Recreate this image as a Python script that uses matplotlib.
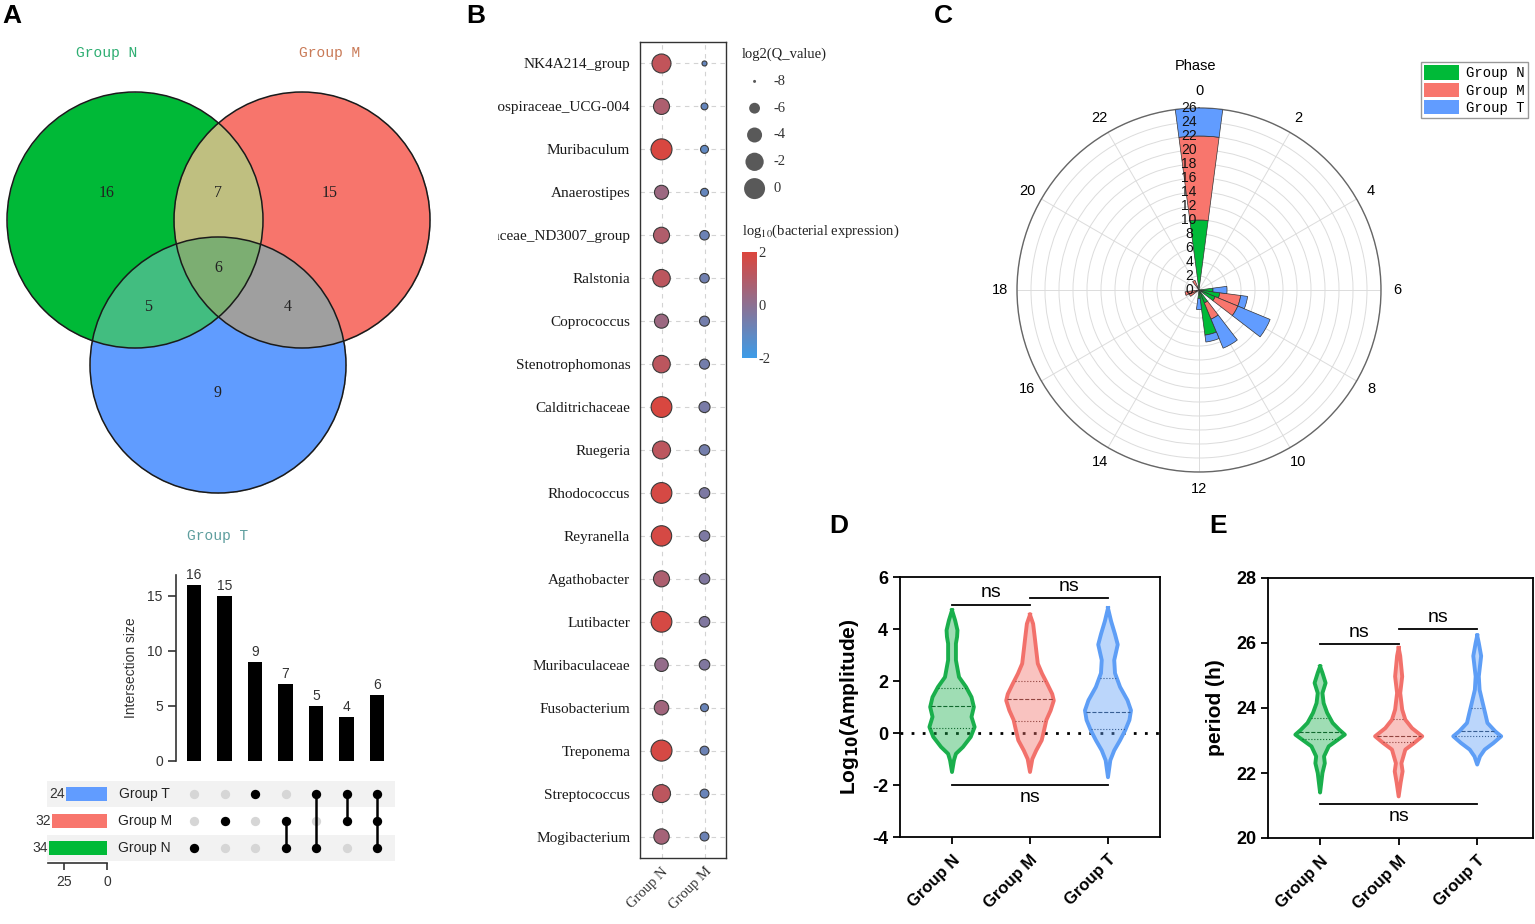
import numpy as np
import matplotlib
matplotlib.use('Agg')
import matplotlib.pyplot as plt
from matplotlib.patches import Circle, Patch
from matplotlib.colors import LinearSegmentedColormap, Normalize, to_rgb
from matplotlib.cm import ScalarMappable
from matplotlib.transforms import Bbox, TransformedBbox, offset_copy

plt.rcParams['font.family'] = ['Liberation Sans', 'DejaVu Sans']
plt.rcParams['axes.unicode_minus'] = False

W, H = 1535, 924
SERIF = 'Liberation Serif'
MONO = 'Liberation Mono'

# ---------------- data ----------------
# A: Venn regions, same order as the UpSet bars
venn_regions = ['N', 'M', 'T', 'NM', 'NT', 'MT', 'NMT']
venn_counts = [16, 15, 9, 7, 5, 4, 6]
set_keys = ['N', 'M', 'T']
set_labels = ['Group N', 'Group M', 'Group T']

# B: bubble chart
genera = ['NK4A214_group', 'Lachnospiraceae_UCG-004', 'Muribaculum', 'Anaerostipes',
          'Lachnospiraceae_ND3007_group', 'Ralstonia', 'Coprococcus', 'Stenotrophomonas',
          'Calditrichaceae', 'Ruegeria', 'Rhodococcus', 'Reyranella', 'Agathobacter',
          'Lutibacter', 'Muribaculaceae', 'Fusobacterium', 'Treponema', 'Streptococcus',
          'Mogibacterium']
bubble_groups = ['Group N', 'Group M']
expr_N = [1.3, 0.8, 1.9, 0.4, 0.9, 1.2, 0.4, 1.2, 1.9, 1.2, 1.8, 1.8, 0.8, 1.8, 0.2, 0.5, 1.8, 1.2, 0.6]
expr_M = [-1.0, -1.0, -1.1, -1.0, -0.8, -0.7, -0.6, -0.6, -0.5, -0.6, -0.4, -0.4, -0.3, -0.3, -0.3, -0.9, -0.8, -0.9, -0.8]
q_N = [-1.5, -3.4, 0.0, -4.5, -3.4, -2.5, -4.5, -2.5, -0.2, -2.2, -0.2, -0.5, -3.4, -0.2, -4.8, -4.3, 0.0, -2.2, -3.8]
q_M = [-7.7, -7.3, -7.0, -7.0, -6.5, -6.5, -6.3, -6.3, -5.9, -6.1, -6.1, -6.1, -6.1, -6.1, -6.1, -7.0, -6.7, -6.7, -6.7]
q_legend = [-8, -6, -4, -2, 0]

# C: phase rose (stacked counts per hour)
phase_hours = [0, 6, 7, 8, 10, 11, 12, 16, 17, 22]
phase_N = [10, 2, 3, 2.5, 2, 6.5, 1.2, 0, 0, 0]
phase_M = [12, 0, 3, 3.5, 2.5, 0, 0, 1.5, 2, 1.5]
phase_T = [4, 2, 1, 5, 4.5, 1, 1.6, 0, 0, 0]

# D: log10(amplitude) violin outlines (value, half width) and quartiles
amp_y = [
    [4.72, 4.33, 3.95, 3.70, 3.44, 2.80, 2.15, 1.77, 1.38, 1.00, 0.62, 0.23, -0.15, -0.54, -0.80, -1.05, -1.50],
    [4.55, 4.20, 3.70, 3.18, 2.67, 2.28, 1.90, 1.50, 1.25, 0.87, 0.50, 0.10, -0.28, -0.67, -1.00, -1.50],
    [4.80, 4.30, 3.80, 3.40, 2.80, 2.30, 1.77, 1.26, 0.87, 0.50, 0.10, -0.28, -0.67, -1.05, -1.70],
]
amp_w = [
    [0.0, 0.04, 0.07, 0.065, 0.05, 0.05, 0.09, 0.18, 0.25, 0.28, 0.25, 0.29, 0.24, 0.14, 0.05, 0.025, 0.0],
    [0.0, 0.04, 0.06, 0.08, 0.10, 0.155, 0.22, 0.285, 0.305, 0.265, 0.21, 0.18, 0.15, 0.08, 0.03, 0.0],
    [0.0, 0.04, 0.09, 0.125, 0.08, 0.09, 0.155, 0.25, 0.295, 0.275, 0.22, 0.155, 0.08, 0.03, 0.0],
]
amp_quart = [[0.2, 1.05, 1.75], [0.47, 1.3, 2.0], [0.15, 0.8, 2.1]]
amp_sig = [(1, 2, 4.94), (2, 3, 5.2), (1, 3, -2.0)]

# E: period violins
per_y = [
    [25.28, 25.08, 24.77, 24.46, 24.15, 23.85, 23.54, 23.33, 23.18, 23.03, 22.82, 22.51, 22.30, 22.00, 21.70, 21.40],
    [25.85, 25.60, 24.97, 24.46, 23.95, 23.64, 23.38, 23.13, 22.92, 22.72, 22.30, 22.05, 21.70, 21.28],
    [26.23, 26.00, 25.60, 24.97, 24.56, 24.15, 23.85, 23.54, 23.28, 23.13, 22.92, 22.72, 22.51, 22.26],
]
per_w = [
    [0.0, 0.03, 0.07, 0.03, 0.045, 0.09, 0.16, 0.245, 0.315, 0.23, 0.11, 0.05, 0.06, 0.03, 0.015, 0.0],
    [0.0, 0.02, 0.045, 0.02, 0.045, 0.085, 0.17, 0.30, 0.195, 0.085, 0.035, 0.05, 0.025, 0.0],
    [0.0, 0.02, 0.05, 0.02, 0.03, 0.07, 0.10, 0.13, 0.23, 0.305, 0.205, 0.095, 0.035, 0.0],
]
per_quart = [[23.05, 23.25, 23.7], [22.95, 23.15, 23.65], [23.15, 23.3, 24.0]]
per_sig = [(1, 2, 25.98), (2, 3, 26.44), (1, 3, 21.04)]

set_colors = {'N': '#00BA38', 'M': '#F8766D', 'T': '#619CFF'}
violin_colors = ['#1AAF4C', '#F2716B', '#5E9EF6']


def px(l, t, r, b):
    return [l / W, 1 - b / H, (r - l) / W, (b - t) / H]


fig = plt.figure(figsize=(W / 100, H / 100), dpi=100)

# overlay in pixel units (Venn + panel letters)
ov = fig.add_axes([0, 0, 1, 1])

# ---------------- A: Venn ----------------
venn_centers = {'N': (135, 220), 'M': (302, 220), 'T': (218, 365)}
venn_r = 128
region_colors = {'N': '#00BA38', 'M': '#F8766D', 'T': '#619CFF', 'NM': '#C0BF80',
                 'NT': '#42BE80', 'MT': '#A0A0A0', 'NMT': '#7DAE72'}
xs = np.arange(0, 470, 0.5)
ys = np.arange(80, 500, 0.5)
X, Y = np.meshgrid(xs, ys)
inside = {k: (X - c[0]) ** 2 + (Y - c[1]) ** 2 <= venn_r ** 2 for k, c in venn_centers.items()}
img = np.zeros(X.shape + (4,))
for reg in venn_regions:
    mask = np.ones(X.shape, bool)
    for k in set_keys:
        mask &= inside[k] if k in reg else ~inside[k]
    img[mask] = (*to_rgb(region_colors[reg]), 1.0)
ov.imshow(img, extent=(0, 470, 500, 80), origin='upper', aspect='auto', interpolation='bilinear')
for k, c in venn_centers.items():
    ov.add_patch(Circle(c, venn_r, fill=False, ec='#1a1a1a', lw=1.1))
region_pos = {'N': (107, 193), 'M': (330, 193), 'T': (218, 393), 'NM': (218, 193),
              'NT': (148, 307), 'MT': (288, 307), 'NMT': (218, 268)}
for reg, n in zip(venn_regions, venn_counts):
    ov.text(*region_pos[reg], str(n), ha='center', va='center', fontsize=11.5, family=SERIF, color='#222')
ov.text(107, 53, 'Group N', ha='center', va='center', fontsize=10.5, family=MONO, color='#2EAE72')
ov.text(330, 53, 'Group M', ha='center', va='center', fontsize=10.5, family=MONO, color='#C97A57')
ov.text(218, 536, 'Group T', ha='center', va='center', fontsize=10.5, family=MONO, color='#5E9E9E')

for letter, (x, y) in zip('ABCDE', [(12, 16), (476, 16), (943, 16), (839, 526), (1218, 526)]):
    ov.text(x, y, letter, ha='center', va='center', fontsize=19, fontweight='bold')
ov.set_xlim(0, W)
ov.set_ylim(H, 0)
ov.axis('off')

# ---------------- A: UpSet ----------------
row_y = {'N': 0, 'M': 1, 'T': 2}
set_sizes = [sum(n for reg, n in zip(venn_regions, venn_counts) if k in reg) for k in set_keys]

axU = fig.add_axes(px(176, 575, 395, 761))
xi = np.arange(len(venn_regions))
axU.bar(xi, venn_counts, width=0.48, color='black')
for x, v in zip(xi, venn_counts):
    axU.text(x, v + 0.25, str(v), ha='center', va='bottom', fontsize=10, color='#333')
axU.set_xlim(-0.59, 6.59)
axU.set_ylim(0, 16.9)
for s in ['top', 'right', 'bottom']:
    axU.spines[s].set_visible(False)
axU.spines['left'].set_color('#333')
axU.spines['left'].set_linewidth(1.2)
axU.set_xticks([])
axU.set_yticks([0, 5, 10, 15])
axU.tick_params(axis='y', labelsize=10, colors='#333', length=6, width=1.2)
axU.set_ylabel('Intersection size', fontsize=10, color='#333', labelpad=7)

axM = fig.add_axes(px(47, 781, 395, 861))
axM.set_xlim(-4.82, 6.59)
axM.set_ylim(-0.48, 2.48)
for k in ['N', 'T']:
    axM.axhspan(row_y[k] - 0.5, row_y[k] + 0.5, color='#F2F2F2', lw=0, zorder=0)
for x, reg in zip(xi, venn_regions):
    rows = [row_y[k] for k in reg]
    axM.scatter([x] * 3, [0, 1, 2], s=45, color='#D6D6D6', zorder=2, lw=0)
    if len(rows) > 1:
        axM.plot([x, x], [min(rows), max(rows)], color='black', lw=1.8, zorder=3)
    axM.scatter([x] * len(rows), rows, s=45, color='black', zorder=4, lw=0)
for k, lab in zip(set_keys, set_labels):
    axM.text(-1.62, row_y[k], lab, ha='center', va='center', fontsize=10, color='#222')
axM.axis('off')

axS = fig.add_axes(px(48, 781, 107, 863))
axS.patch.set_alpha(0)
axS.barh([row_y[k] for k in set_keys], set_sizes, height=0.52,
         color=[set_colors[k] for k in set_keys])
for k, v in zip(set_keys, set_sizes):
    axS.text(v + 0.5, row_y[k], str(v), ha='right', va='center', fontsize=10, color='#333')
axS.set_xlim(34.3, 0)
axS.set_ylim(-0.556, 2.48)
for s in ['top', 'right', 'left']:
    axS.spines[s].set_visible(False)
axS.spines['bottom'].set_linewidth(1.2)
axS.spines['bottom'].set_color('#333')
axS.set_xticks([25, 0])
axS.set_yticks([])
axS.tick_params(axis='x', labelsize=10, colors='#333', length=5, width=1.2)

# ---------------- B: bubble chart ----------------
cmap_b = LinearSegmentedColormap.from_list('expr', ['#3D9CE8', '#DC453C'])
norm_b = Normalize(-2, 2)


def bubble_size(q):
    d_px = np.sqrt(9 + 54 * (np.asarray(q, float) + 8))
    return (d_px * 0.72) ** 2


axB = fig.add_axes(px(640, 42, 726, 858))
yb = np.arange(1, len(genera) + 1)
for i, (ex, q) in enumerate([(expr_N, q_N), (expr_M, q_M)]):
    axB.scatter(np.full(len(genera), i + 1), yb, s=bubble_size(q), c=ex, cmap=cmap_b, norm=norm_b,
                edgecolors='#3a3a3a', linewidths=0.8, zorder=3)
axB.set_xlim(0.5, 2.5)
axB.set_ylim(19.5, 0.5)
axB.grid(True, ls=(0, (4, 4)), color='#D3D3D3', lw=0.8)
axB.set_axisbelow(True)
axB.set_yticks(yb)
axB.set_yticklabels(genera, family=SERIF, fontsize=11, color='#1a1a1a')
axB.set_xticks([1, 2])
axB.set_xticklabels(bubble_groups, family=SERIF, fontsize=10.5, color='#333', rotation=45,
                    ha='right', va='top', rotation_mode='anchor')
axB.tick_params(length=0)
axB.tick_params(axis='y', pad=7)
axB.tick_params(axis='x', pad=5)
for s in axB.spines.values():
    s.set_color('#333')
    s.set_linewidth(1.0)
clip = TransformedBbox(Bbox([[498 / W, 0], [1, 1]]), fig.transFigure)
for t in axB.get_yticklabels():
    t.set_clip_on(True)
    t.set_clip_box(clip)

# size legend
fig.text(742 / W, 1 - 54 / H, 'log2(Q_value)', family=SERIF, fontsize=10.5, va='center', color='#222')
axL = fig.add_axes(px(742, 68, 830, 202))
li = np.arange(len(q_legend))
axL.scatter(np.zeros(len(q_legend)), li, s=bubble_size(q_legend), color='#595959', lw=0)
for y, q in zip(li, q_legend):
    axL.text(0.75, y, str(q), va='center', ha='left', family=SERIF, fontsize=10.5, color='#333')
axL.set_xlim(-0.5, 3)
axL.set_ylim(len(q_legend) - 0.5, -0.5)
axL.axis('off')

# colour bar
fig.text(742 / W, 1 - 231 / H, r'log$_{10}$(bacterial expression)', family=SERIF, fontsize=10.5,
         va='center', color='#222', math_fontfamily='stix')
cax = fig.add_axes(px(742, 252, 757, 358))
cb = fig.colorbar(ScalarMappable(norm=norm_b, cmap=cmap_b), cax=cax, ticks=[-2, 0, 2])
cb.outline.set_visible(False)
cax.tick_params(length=0, pad=1, labelsize=10.5, colors='#333')
for t in cax.get_yticklabels():
    t.set_family(SERIF)

# ---------------- C: phase rose ----------------
axC = fig.add_axes(px(1017, 108, 1381, 472), projection='polar')
axC.set_theta_zero_location('N')
axC.set_theta_direction(-1)
theta = np.array(phase_hours) / 24 * 2 * np.pi
bottom = np.zeros(len(theta))
for vals, k in zip([phase_N, phase_M, phase_T], set_keys):
    vals = np.array(vals, float)
    nz = vals > 0
    axC.bar(theta[nz], vals[nz], width=2 * np.pi / 24, bottom=bottom[nz], color=set_colors[k],
            edgecolor='#333333', linewidth=0.5, zorder=3, align='center')
    bottom += vals
hours_major = np.arange(0, 24, 2)
axC.set_xticks(hours_major / 24 * 2 * np.pi)
axC.set_xticklabels([str(h) for h in hours_major], fontsize=10.5)
axC.set_xticks(np.arange(24) / 24 * 2 * np.pi, minor=True)
axC.tick_params(axis='x', which='both', direction='in', length=4, color='#777', pad=5)
axC.set_rlim(0, 26)
r_ticks = np.arange(0, 27, 2)
axC.set_rticks(r_ticks)
axC.set_yticklabels([])
axC.grid(True, color='#DCDCDC', lw=0.7)
axC.spines['polar'].set_color('#666')
axC.spines['polar'].set_linewidth(1.0)
r_lab_tr = offset_copy(axC.transData, fig=fig, x=-10, y=0, units='dots')
for r in r_ticks:
    axC.text(0, r, str(r), transform=r_lab_tr, ha='center', va='center', fontsize=10,
             color='#111', zorder=6, clip_on=False)
fig.text(1195 / W, 1 - 66 / H, 'Phase', ha='center', va='center', fontsize=10.5)
axC.legend(handles=[Patch(facecolor=set_colors[k], edgecolor='none', label=lab)
                    for k, lab in zip(set_keys, set_labels)],
           loc='upper left', bbox_to_anchor=(1421 / W, 1 - 62 / H), bbox_transform=fig.transFigure,
           prop={'family': MONO, 'size': 10}, fancybox=False, edgecolor='#999', framealpha=1,
           borderpad=0.25, handlelength=2.5, handleheight=1.25, labelspacing=0.15,
           handletextpad=0.5, borderaxespad=0)


# ---------------- D / E: violins ----------------
def darker(c, f=0.6):
    r, g, b = to_rgb(c)
    return (r * f, g * f, b * f)


def violin_panel(ax, ys_list, ws_list, quarts, sigs, ylim, yticks, ylabel, sig_off):
    for i, (yv, hw, q, col) in enumerate(zip(ys_list, ws_list, quarts, violin_colors)):
        yv = np.array(yv)
        hw = np.array(hw)
        x = i + 1
        xs_ = np.concatenate([x - hw, (x + hw)[::-1]])
        ys_ = np.concatenate([yv, yv[::-1]])
        ax.fill(xs_, ys_, facecolor=col, alpha=0.42, edgecolor='none', zorder=2)
        ax.plot(np.append(xs_, xs_[0]), np.append(ys_, ys_[0]), color=col, lw=2.8,
                solid_joinstyle='round', zorder=3)
        for val, ls in zip(q, [':', '--', ':']):
            w = np.interp(val, yv[::-1], hw[::-1]) - 0.01
            ax.plot([x - w, x + w], [val, val], color=darker(col), ls=ls, lw=0.8, zorder=4)
    for j, (a, b, yl) in enumerate(sigs):
        ax.plot([a, b], [yl, yl], color='black', lw=1.3, zorder=5)
        if j < 2:
            ax.text((a + b) / 2, yl + sig_off * 0.12, 'ns', ha='center', va='bottom', fontsize=14)
        else:
            ax.text((a + b) / 2, yl - sig_off * 0.15, 'ns', ha='center', va='top', fontsize=14)
    ax.set_ylim(*ylim)
    ax.set_yticks(yticks)
    ax.set_xticks([1, 2, 3])
    ax.set_xticklabels(set_labels, rotation=45, ha='right', va='top', rotation_mode='anchor',
                       fontsize=12, fontweight='bold')
    for t in ax.get_yticklabels():
        t.set_fontweight('bold')
    ax.tick_params(axis='y', labelsize=13, length=5, width=1.3)
    ax.tick_params(axis='x', length=5, width=1.3, pad=6)
    for s in ax.spines.values():
        s.set_linewidth(1.3)
    ax.set_ylabel(ylabel, fontsize=15, fontweight='bold', labelpad=8)


axD = fig.add_axes(px(900, 577, 1160, 837))
axD.axhline(0, color='black', ls=(0, (1, 3)), lw=2, zorder=1)
violin_panel(axD, amp_y, amp_w, amp_quart, amp_sig, (-4, 6), [-4, -2, 0, 2, 4, 6],
             r'Log$_{\mathbf{10}}$(Amplitude)', 1.0)
axD.set_xlim(0.333, 3.667)

axE = fig.add_axes(px(1268, 578, 1533, 838))
violin_panel(axE, per_y, per_w, per_quart, per_sig, (20, 28), [20, 22, 24, 26, 28],
             'period (h)', 0.8)
axE.set_xlim(0.337, 3.71)

fig.savefig('out.png', dpi=100)
